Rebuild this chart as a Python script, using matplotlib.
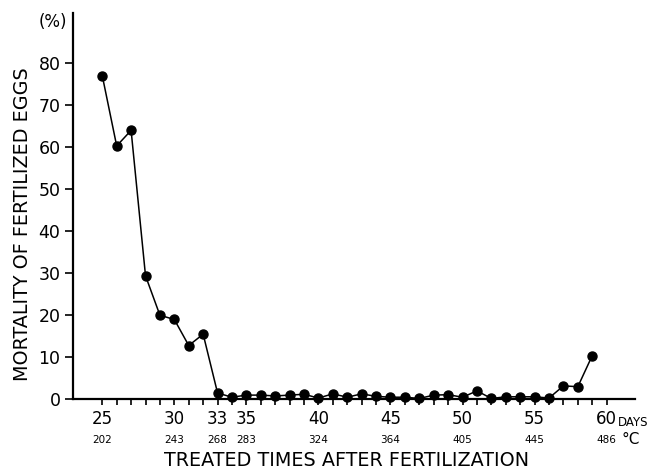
import matplotlib
matplotlib.use("Agg")
import matplotlib.pyplot as plt

# data: one point per day after fertilization
days = list(range(25, 60))
mortality = [77.0, 60.3, 64.0, 29.4, 20.0, 19.0, 12.8, 15.5, 1.5, 0.5,
             1.0, 1.0, 0.8, 1.0, 1.2, 0.3, 1.3, 0.5, 1.3, 0.7,
             0.5, 0.5, 0.2, 1.0, 1.1, 0.5, 2.0, 0.2, 0.6, 0.6,
             0.6, 0.3, 3.2, 3.0, 10.4]

# labelled ticks and their degree-day equivalents
label_days = [25, 30, 33, 35, 40, 45, 50, 55, 60]
degree_days = ["202", "243", "268", "283", "324", "364", "405", "445", "486"]
y_ticks = [0, 10, 20, 30, 40, 50, 60, 70, 80]

plt.rcParams['font.family'] = ['DejaVu Sans']

fig = plt.figure(figsize=(6.52, 4.72), dpi=100)
ax = fig.add_axes([0.1120, 0.1540, 0.8620, 0.8191])

ax.plot(days, mortality, color='black', linewidth=1.1, marker='o',
        markersize=6.5, markerfacecolor='black', clip_on=False, zorder=3)

ax.set_xlim(22.97, 61.97)
ax.set_ylim(0, 92.0)

for side in ['top', 'right']:
    ax.spines[side].set_visible(False)
for side in ['left', 'bottom']:
    ax.spines[side].set_linewidth(1.6)

all_days = list(range(25, 61))
ax.set_xticks(all_days)
ax.set_xticklabels([str(d) if d in label_days else '' for d in all_days])
ax.set_yticks(y_ticks)
ax.set_yticklabels([str(v) for v in y_ticks])
ax.tick_params(axis='x', direction='out', length=4, width=1.2, pad=4, labelsize=12)
ax.tick_params(axis='y', direction='out', length=6, width=1.2, pad=3, labelsize=12.5)

# degree-day row under the day labels
trans = ax.get_xaxis_transform()
for d, dd in zip(label_days, degree_days):
    ax.text(d, -0.105, dd, transform=trans, ha='center', va='center', fontsize=7.5)

fig.text(0.948, 0.1049, 'DAYS', ha='left', va='center', fontsize=8.5)
fig.text(0.967, 0.0678, '°C', ha='center', va='center', fontsize=11)
fig.text(0.0813, 0.953, '(%)', ha='center', va='center', fontsize=12)

fig.text(0.034, 0.525, 'MORTALITY OF FERTILIZED EGGS', rotation=90,
         ha='center', va='center', fontsize=13.8)
fig.text(0.531, 0.025, 'TREATED TIMES AFTER FERTILIZATION',
         ha='center', va='center', fontsize=13.8)

fig.savefig('out.png', dpi=100)
